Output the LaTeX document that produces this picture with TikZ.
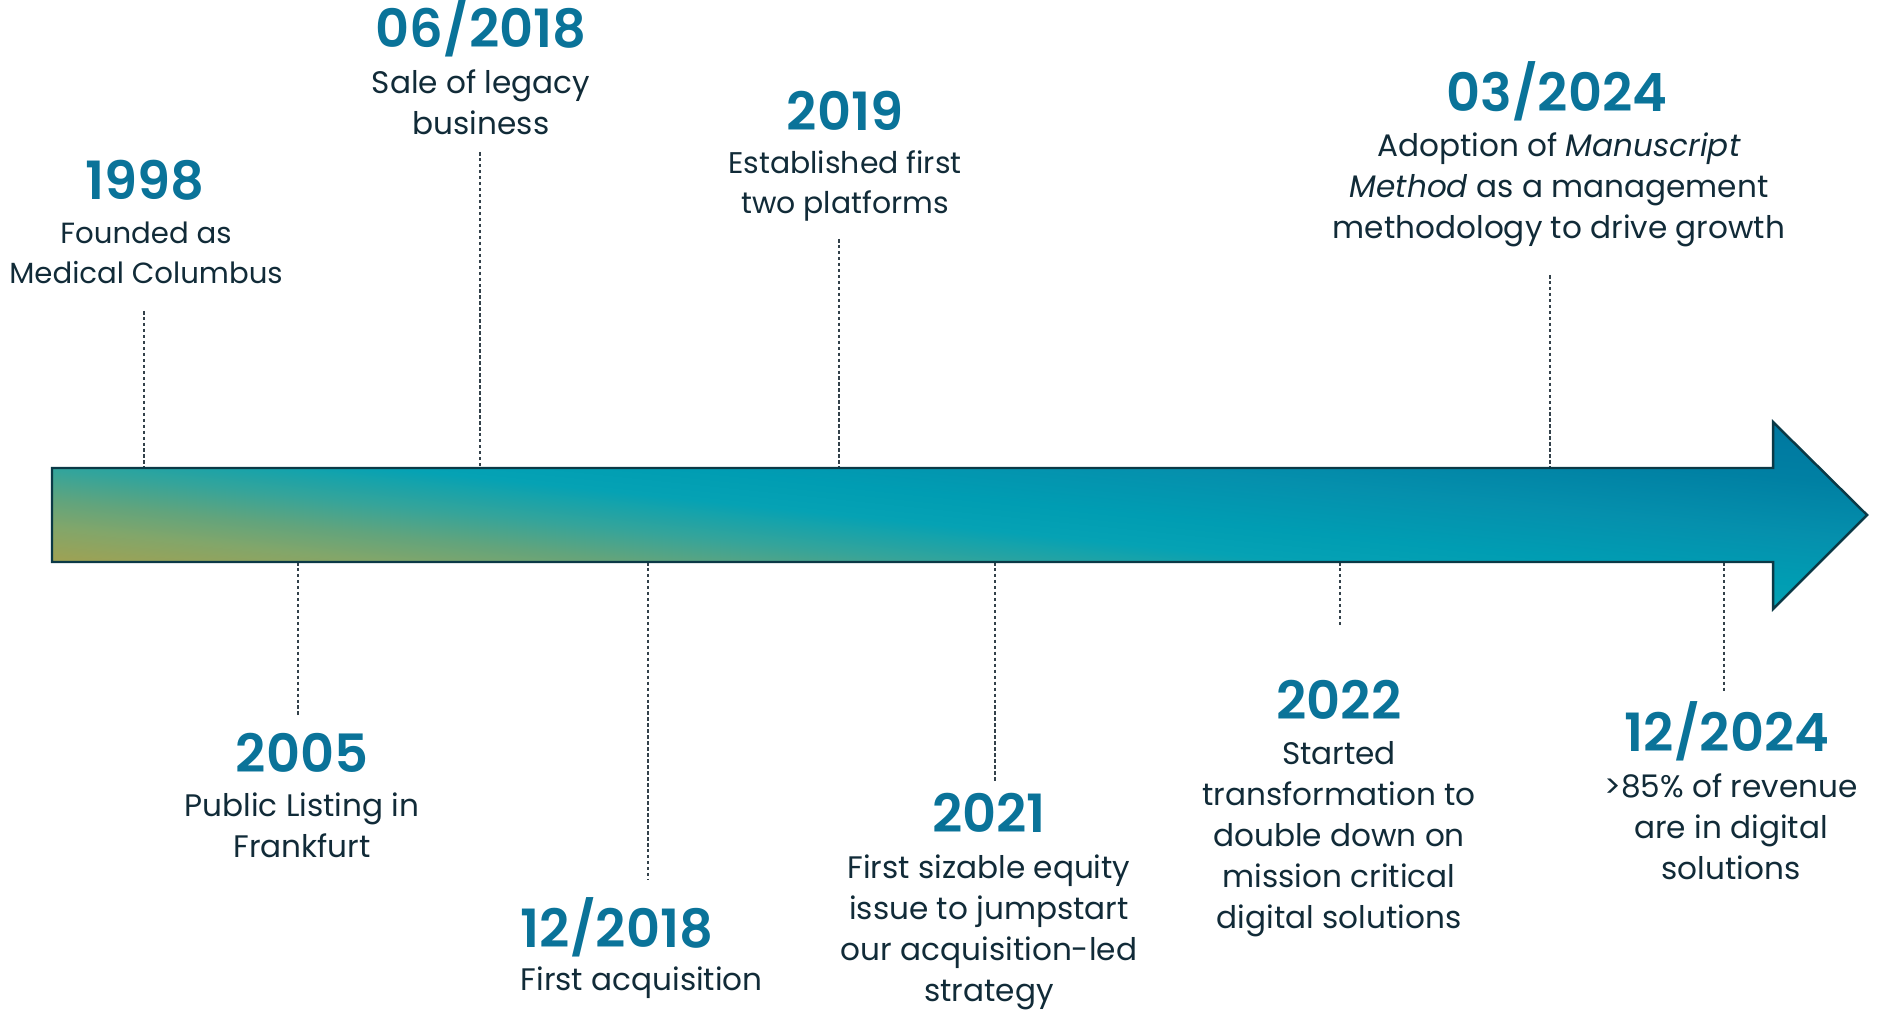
\documentclass[tikz,border=0pt]{standalone}
\usepackage{fontspec}
\setmainfont{Poppins}
\IfFontExistsTF{Poppins SemiBold}{\newfontfamily\datefont{Poppins SemiBold}}{\newcommand\datefont{\bfseries}}
\definecolor{datecol}{HTML}{0A7399}
\definecolor{txtcol}{HTML}{112B38}
\definecolor{edgecol}{HTML}{0B3946}
\definecolor{dashcol}{HTML}{33414A}
\definecolor{ga}{HTML}{A8A04C}
\definecolor{gb}{HTML}{82A66A}
\definecolor{gc}{HTML}{62A47C}
\definecolor{gd}{HTML}{35A49A}
\definecolor{ge}{HTML}{05A2B4}
\definecolor{gf}{HTML}{009DB3}
\definecolor{gg}{HTML}{0590AD}
\definecolor{gh}{HTML}{0080A3}
\definecolor{gi}{HTML}{0076A0}
\pgfdeclarehorizontalshading{tlshade}{100bp}{color(0bp)=(ga); color(30bp)=(ga); color(36bp)=(gb); color(39.5bp)=(gc); color(43.5bp)=(gd); color(48.5bp)=(ge); color(52.5bp)=(gf); color(59bp)=(gg); color(66.5bp)=(gh); color(75bp)=(gi); color(100bp)=(gi)}
\tikzset{
  datelbl/.style={font=\fontsize{15}{18}\selectfont\datefont, text=datecol, inner sep=0pt, anchor=base},
  desclbl/.style={font=\fontsize{8.85}{11.66}\selectfont, text=txtcol, inner sep=0pt, align=center, anchor=north},
  tickline/.style={draw=dashcol, line width=0.35pt, dash pattern=on 1pt off 0.7pt},
  arrowedge/.style={draw=edgecol, line width=0.7pt, line join=miter}
}
\begin{document}
\begin{tikzpicture}[x=0.01cm,y=-0.01cm]
\useasboundingbox (0,0) rectangle (1877,1013);
% tick coordinates
\coordinate (a1998) at (144,311);  \coordinate (b1998) at (144,468);
\coordinate (a0618) at (480,152);  \coordinate (b0618) at (480,468);
\coordinate (a2019) at (839,239);  \coordinate (b2019) at (839,468);
\coordinate (a0324) at (1550,275); \coordinate (b0324) at (1550,468);
\coordinate (a2005) at (298,562);  \coordinate (b2005) at (298,715);
\coordinate (a1218) at (648,562);  \coordinate (b1218) at (648,880);
\coordinate (a2021) at (995,562);  \coordinate (b2021) at (995,782);
\coordinate (a2022) at (1340,562); \coordinate (b2022) at (1340,625);
\coordinate (a1224) at (1724,562); \coordinate (b1224) at (1724,691);
\foreach \k in {1998,0618,2019,0324,2005,1218,2021,2022,1224}
  \draw[tickline] (a\k) -- (b\k);
% arrow fill: gradient along the bounding-box diagonal
\begin{scope}
  \clip (52,468) -- (1773,468) -- (1773,422) -- (1867,515) -- (1773,609) -- (1773,562) -- (52,562) -- cycle;
  \begin{scope}[transform canvas={shift={(959.5,515.5)}, xscale=9.075, yscale=0.935, rotate=45}]
    \shade[shading=tlshade] (-141.42,-141.42) rectangle (141.42,141.42);
  \end{scope}
\end{scope}
\draw[arrowedge] (52,468) -- (1773,468) -- (1773,422) -- (1867,515) -- (1773,609) -- (1773,562) -- (52,562) -- cycle;
% labels above
\node[datelbl] (y1998) at (145,200) {1998};
\node[desclbl, font=\fontsize{8.3}{11.2}\selectfont] (t1998) at (146,215.5) {\strut Founded as\\\strut Medical Columbus};
\node[datelbl] (y0618) at (481,47.5) {06/2018};
\node[desclbl] (t0618) at (481,64.3) {\strut Sale of legacy\\\strut business};
\node[datelbl] (y2019) at (845,131) {2019};
\node[desclbl, font=\fontsize{8.5}{11.4}\selectfont] (t2019) at (845,145) {\strut Established first\\\strut two platforms};
\node[datelbl] (y0324) at (1557,112) {03/2024};
\node[desclbl] (t0324) at (1559,126.7) {\strut Adoption of \textit{Manuscript}\\\strut \textit{Method} as a management\\\strut methodology to drive growth};
% labels below
\node[datelbl] (y2005) at (302,772) {2005};
\node[desclbl] (t2005) at (302,787.3) {\strut Public Listing in\\\strut Frankfurt};
\node[datelbl, anchor=base west] (y1218) at (520,947) {12/2018};
\node[desclbl, anchor=north west, align=left] (t1218) at (520,961.5) {\strut First acquisition};
\node[datelbl] (y2021) at (989,832) {2021};
\node[desclbl] (t2021) at (989,849.5) {\strut First sizable equity\\\strut issue to jumpstart\\\strut our acquisition-led\\\strut strategy};
\node[datelbl] (y2022) at (1339,719) {2022};
\node[desclbl] (t2022) at (1339,735.5) {\strut Started\\\strut transformation to\\\strut double down on\\\strut mission critical\\\strut digital solutions};
\node[datelbl] (y1224) at (1727,751) {12/2024};
\node[desclbl] (t1224) at (1731,768.3) {\strut >85\% of revenue\\\strut are in digital\\\strut solutions};
\end{tikzpicture}
\end{document}
